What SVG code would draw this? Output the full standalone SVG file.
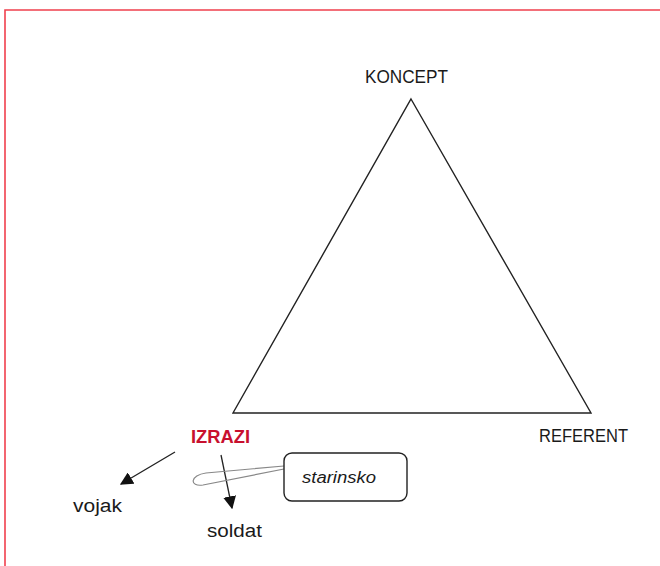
<svg xmlns="http://www.w3.org/2000/svg" width="660" height="566" viewBox="0 0 660 566">
  <style>
    .lbl { font-family: "Liberation Sans", Arial, sans-serif; font-size: 18px; fill: #1a1a1a; }
    .key { font-family: "Liberation Sans", Arial, sans-serif; font-size: 18px; font-weight: bold; fill: #c8102e; }
    .note { font-family: "Liberation Sans", Arial, sans-serif; font-size: 16px; font-style: italic; fill: #1a1a1a; }
    .edge { fill: none; stroke: #222; stroke-width: 1.4; }
    .arrow { fill: none; stroke: #222; stroke-width: 1.3; marker-end: url(#head); }
  </style>
  <defs>
    <marker id="head" viewBox="0 0 10 10" refX="9" refY="5" markerWidth="13" markerHeight="13" markerUnits="userSpaceOnUse" orient="auto">
      <path d="M0,0 L10,5 L0,10 Z" fill="#111"/>
    </marker>
  </defs>
  <rect width="660" height="566" fill="#fff"/>
  <!-- page frame -->
  <path d="M5,566 L5,10 L660,10" fill="none" stroke="#f0404e" stroke-width="1.6"/>

  <g id="connectors">
    <!-- semiotic triangle -->
    <path class="edge" d="M411,99 L591,413 L233,413 Z"/>
    <line class="arrow" x1="175" y1="452" x2="121" y2="484"/>
    <line class="arrow" x1="221" y1="455" x2="232" y2="508"/>
    <!-- callout tail from the note -->
    <path d="M284,466 L206,473 C190,475 189,487 203,485 L284,469" fill="none" stroke="#888" stroke-width="1.2"/>
  </g>

  <g id="koncept"><text class="lbl" x="365" y="83" textLength="83" lengthAdjust="spacingAndGlyphs">KONCEPT</text></g>
  <g id="referent"><text class="lbl" x="539" y="442" textLength="89" lengthAdjust="spacingAndGlyphs">REFERENT</text></g>
  <g id="izrazi"><text class="key" x="191" y="443" textLength="59" lengthAdjust="spacingAndGlyphs">IZRAZI</text></g>
  <g id="vojak"><text class="lbl" x="73" y="512" textLength="49" lengthAdjust="spacingAndGlyphs">vojak</text></g>
  <g id="soldat"><text class="lbl" x="207" y="537" textLength="55" lengthAdjust="spacingAndGlyphs">soldat</text></g>
  <g id="starinsko">
    <rect x="284" y="453" width="123" height="48" rx="8" ry="8" fill="#fff" stroke="#222" stroke-width="1.4"/>
    <text class="note" x="302" y="483" textLength="74" lengthAdjust="spacingAndGlyphs">starinsko</text>
  </g>
</svg>
